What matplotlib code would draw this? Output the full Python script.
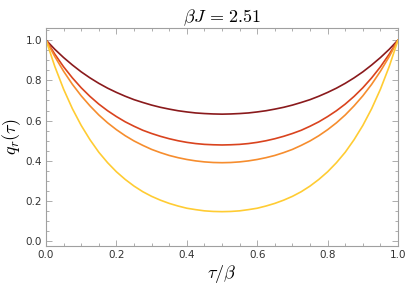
import matplotlib
matplotlib.use("Agg")
from matplotlib import pyplot as plt
from matplotlib.ticker import MultipleLocator

# tau/beta grid and curve values (symmetric about 0.5)
tau = [0.0, 0.025, 0.05, 0.075, 0.1, 0.125, 0.15, 0.175, 0.2, 0.225, 0.25, 0.275, 0.3, 0.325,
       0.35, 0.375, 0.4, 0.425, 0.45, 0.475, 0.5, 0.525, 0.55, 0.575, 0.6, 0.625, 0.65, 0.675,
       0.7, 0.725, 0.75, 0.775, 0.8, 0.825, 0.85, 0.875, 0.9, 0.925, 0.95, 0.975, 1.0]
q_dark = [1.0, 0.954, 0.913, 0.876, 0.842, 0.812, 0.785, 0.761, 0.740, 0.721, 0.704, 0.690, 0.677, 0.666,
          0.657, 0.649, 0.643, 0.638, 0.635, 0.633, 0.632, 0.633, 0.635, 0.638, 0.643, 0.649, 0.657, 0.666,
          0.677, 0.690, 0.704, 0.721, 0.740, 0.761, 0.785, 0.812, 0.842, 0.876, 0.913, 0.954, 1.0]
q_red = [1.0, 0.930, 0.867, 0.812, 0.763, 0.720, 0.682, 0.649, 0.620, 0.594, 0.572, 0.552, 0.536, 0.522,
         0.510, 0.500, 0.492, 0.486, 0.482, 0.480, 0.479, 0.480, 0.482, 0.486, 0.492, 0.500, 0.510, 0.522,
         0.536, 0.552, 0.572, 0.594, 0.620, 0.649, 0.682, 0.720, 0.763, 0.812, 0.867, 0.930, 1.0]
q_orange = [1.0, 0.918, 0.845, 0.780, 0.723, 0.673, 0.628, 0.589, 0.555, 0.525, 0.499, 0.477, 0.457, 0.441,
            0.427, 0.416, 0.407, 0.400, 0.395, 0.392, 0.391, 0.392, 0.395, 0.400, 0.407, 0.416, 0.427, 0.441,
            0.457, 0.477, 0.499, 0.525, 0.555, 0.589, 0.628, 0.673, 0.723, 0.780, 0.845, 0.918, 1.0]
q_yellow = [1.0, 0.869, 0.756, 0.659, 0.576, 0.505, 0.443, 0.391, 0.346, 0.308, 0.275, 0.247, 0.224, 0.205,
            0.189, 0.176, 0.165, 0.158, 0.152, 0.149, 0.148, 0.149, 0.152, 0.158, 0.165, 0.176, 0.189, 0.205,
            0.224, 0.247, 0.275, 0.308, 0.346, 0.391, 0.443, 0.505, 0.576, 0.659, 0.756, 0.869, 1.0]

series = [q_dark, q_red, q_orange, q_yellow]
colors = ["#8a1a1c", "#d9431e", "#f68d2e", "#ffcc33"]

plt.rcParams["mathtext.fontset"] = "cm"

fig = plt.figure(figsize=(4.07, 2.91), dpi=100)
ax = fig.add_axes([0.113, 0.155, 0.865, 0.749])

for q, c in zip(series, colors):
    ax.plot(tau, q, color=c, lw=1.2, solid_capstyle="round", solid_joinstyle="round")

ax.set_xlim(0, 1)
ax.set_ylim(-0.022, 1.06)
ax.xaxis.set_major_locator(MultipleLocator(0.2))
ax.xaxis.set_minor_locator(MultipleLocator(0.05))
ax.yaxis.set_major_locator(MultipleLocator(0.2))
ax.yaxis.set_minor_locator(MultipleLocator(0.05))
ax.xaxis.set_major_formatter(plt.FormatStrFormatter("%.1f"))
ax.yaxis.set_major_formatter(plt.FormatStrFormatter("%.1f"))

for s in ax.spines.values():
    s.set_color("#a0a0a0")
    s.set_linewidth(0.8)
ax.tick_params(which="both", direction="in", top=True, right=True, color="#a0a0a0",
               labelsize=7.5, labelcolor="#333333", width=0.6)
ax.tick_params(which="major", length=4, pad=3)
ax.tick_params(which="minor", length=2)

ax.set_title(r"$\beta J\,=\,2.51$", fontsize=13, pad=4)
ax.set_xlabel(r"$\tau/\beta$", fontsize=13, labelpad=2)
ax.set_ylabel(r"$q_r(\tau)$", fontsize=13, labelpad=2)

plt.savefig("out.png", dpi=100)
